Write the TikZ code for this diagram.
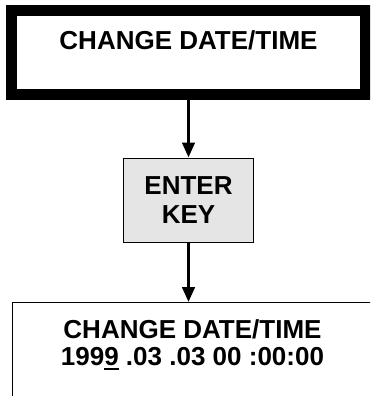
\documentclass[tikz,border=0pt]{standalone}
\usepackage{fontspec}
\setmainfont{Liberation Sans}
\usetikzlibrary{
    positioning,      % For placing nodes relative to each other (e.g., below=of)
    arrows.meta       % For the triangle arrow tips
}

% Underline one digit of the display (the cursor position)
\newcommand{\cursordigit}[1]{\setbox0\hbox{#1}\rlap{\rule[-4.7pt]{\wd0}{2pt}}#1}

\begin{document}
\begin{tikzpicture}[
    x=1pt, y=-1pt,
    % Font used for all the texts
    label_font/.style={
        font=\fontsize{26pt}{28.3pt}\selectfont\bfseries
    },
    % Style for the menu title box (very thick frame)
    title_box/.style={
        draw, line width=11pt,
        label_font,
        minimum width=354pt,
        inner xsep=0pt, inner ysep=0pt,
        text height=38.8pt, text depth=45.2pt
    },
    % Style for the key box (grey)
    key_box/.style={
        draw, line width=1pt,
        fill=gray!20,
        label_font, align=center,
        minimum width=130pt, minimum height=84pt,
        inner sep=0pt
    },
    % Style for the display box (open at the bottom and the right)
    display_box/.style={
        draw, line width=1pt,
        minimum width=360pt, minimum height=120pt
    },
    % Style for the arrows
    flow_arrow/.style={
        line width=3pt,
        -{Triangle[length=15pt, width=12.5pt]}
    }
]
    % 0. Fix the picture size and cut what goes past it
    \useasboundingbox (0,0) rectangle (370,396);
    \clip (0,0) rectangle (370,396);

    % 1. The nodes of the flow, each one below the previous
    \node[title_box] (change_menu) at (188.5,52.5) {CHANGE DATE/TIME};
    \node[key_box, below=57.5pt of change_menu] (enter_key) {ENTER\\KEY};
    \node[display_box, below=59.5pt of enter_key, xshift=4pt] (date_display) {};

    % 2. The text shown on the display
    \node[label_font, font=\fontsize{26pt}{26.7pt}\selectfont\bfseries, align=center,
          inner sep=0pt, anchor=north] (date_text) at ([yshift=-17.3pt]date_display.north)
        {CHANGE DATE/TIME\\199\cursordigit{9} .03 .03 00 :00:00};

    % 3. The arrows between the boxes
    \draw[flow_arrow] (change_menu.south -| enter_key.north) -- (enter_key.north);
    \draw[flow_arrow] (enter_key.south) -- (enter_key.south |- date_display.north);

\end{tikzpicture}
\end{document}
